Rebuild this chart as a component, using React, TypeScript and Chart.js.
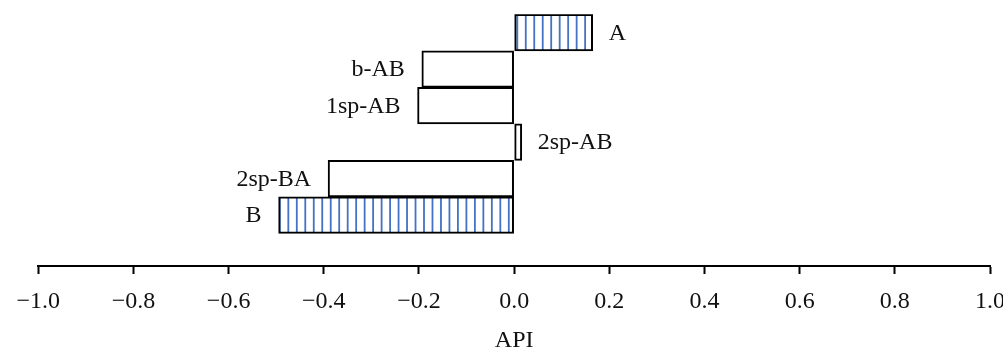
import React, { useEffect, useRef } from "react";
import { Chart, registerables } from "chart.js";

Chart.register(...registerables);

const categories = ["A", "b-AB", "1sp-AB", "2sp-AB", "2sp-BA", "B"];
const apiValues = [0.165, -0.194, -0.203, 0.016, -0.391, -0.495];
const hatched = [true, false, false, false, false, true];
const xMin = -1.0;
const xMax = 1.0;
const xStep = 0.2;
const axisTitle = "API";

const FONT = "'Liberation Serif', 'Times New Roman', serif";

function makeHatch(): CanvasPattern | string {
  const c = document.createElement("canvas");
  const period = 8.48;
  const n = 25;
  c.width = Math.round(period * n);
  c.height = 8;
  const g = c.getContext("2d");
  if (!g) return "#ffffff";
  g.fillStyle = "#ffffff";
  g.fillRect(0, 0, c.width, c.height);
  g.fillStyle = "#4472C4";
  for (let k = 0; k <= n; k++) {
    const x = k * period;
    g.fillRect(x - 0.9, 0, 1.8, c.height);
  }
  const p = g.createPattern(c, "repeat");
  return p || "#4472C4";
}

const labelPlugin = {
  id: "barLabels",
  afterDatasetsDraw(chart: any) {
    const ctx = chart.ctx;
    const meta = chart.getDatasetMeta(0);
    ctx.save();
    ctx.font = `24px ${FONT}`;
    ctx.fillStyle = "#111111";
    ctx.textBaseline = "middle";
    meta.data.forEach((bar: any, i: number) => {
      const v = apiValues[i];
      const p = bar.getProps(["x", "y", "base"], true);
      if (v >= 0) {
        ctx.textAlign = "left";
        ctx.fillText(categories[i], p.x + 16, p.y + 1);
      } else {
        ctx.textAlign = "right";
        ctx.fillText(categories[i], p.x - 17, p.y + 1);
      }
    });
    ctx.restore();
  },
};

export default function App() {
  const ref = useRef<HTMLCanvasElement | null>(null);

  useEffect(() => {
    if (!ref.current) return;
    const hatch = makeHatch();
    const chart = new Chart(ref.current, {
      type: "bar",
      data: {
        datasets: [
          {
            data: apiValues.map((v, i) => ({ x: v, y: i })) as any,
            backgroundColor: hatched.map((h) => (h ? hatch : "#ffffff")) as any,
            borderColor: "#000000",
            borderWidth: 2,
            borderSkipped: false,
            barPercentage: 1,
            categoryPercentage: 1,
          },
        ],
      },
      options: {
        indexAxis: "y",
        animation: false,
        responsive: false,
        maintainAspectRatio: false,
        layout: { padding: { left: 38.3, right: 13, top: 14.3, bottom: 0 } },
        plugins: { legend: { display: false }, tooltip: { enabled: false } },
        scales: {
          y: {
            type: "linear",
            reverse: true,
            min: -0.5,
            max: 6.396,
            offset: false,
            bounds: "data",
            display: false,
            ticks: { stepSize: 1 },
            afterBuildTicks: (scale: any) => {
              scale.ticks = scale.ticks.filter((t: any) => Number.isInteger(t.value));
            },
          },
          x: {
            type: "linear",
            position: "bottom",
            min: xMin,
            max: xMax,
            afterFit: (scale: any) => {
              scale.paddingLeft = 0;
              scale.paddingRight = 0;
            },
            ticks: {
              stepSize: xStep,
              color: "#111111",
              padding: 16,
              font: { family: FONT, size: 24, lineHeight: 1 },
              maxRotation: 0,
              autoSkip: false,
              callback: (value: any) => {
                const r = Math.round(Number(value) * 10) / 10;
                const s = Math.abs(r).toFixed(1);
                return r < 0 ? "\u2212" + s : s;
              },
            },
            grid: {
              drawOnChartArea: false,
              drawTicks: true,
              tickLength: 8,
              tickWidth: 2,
              tickColor: "#000000",
            },
            border: { display: true, color: "#000000", width: 2 },
            title: {
              display: true,
              text: axisTitle,
              color: "#111111",
              font: { family: FONT, size: 24, lineHeight: 0.9167 },
              padding: { top: 0, bottom: 0 },
            },
          },
        },
      },
      plugins: [labelPlugin],
    });
    return () => chart.destroy();
  }, []);

  return (
    <div style={{ position: "absolute", left: 0, top: 0, width: 1003, height: 352, background: "#fff" }}>
      <canvas ref={ref} width={1003} height={352} />
    </div>
  );
}
